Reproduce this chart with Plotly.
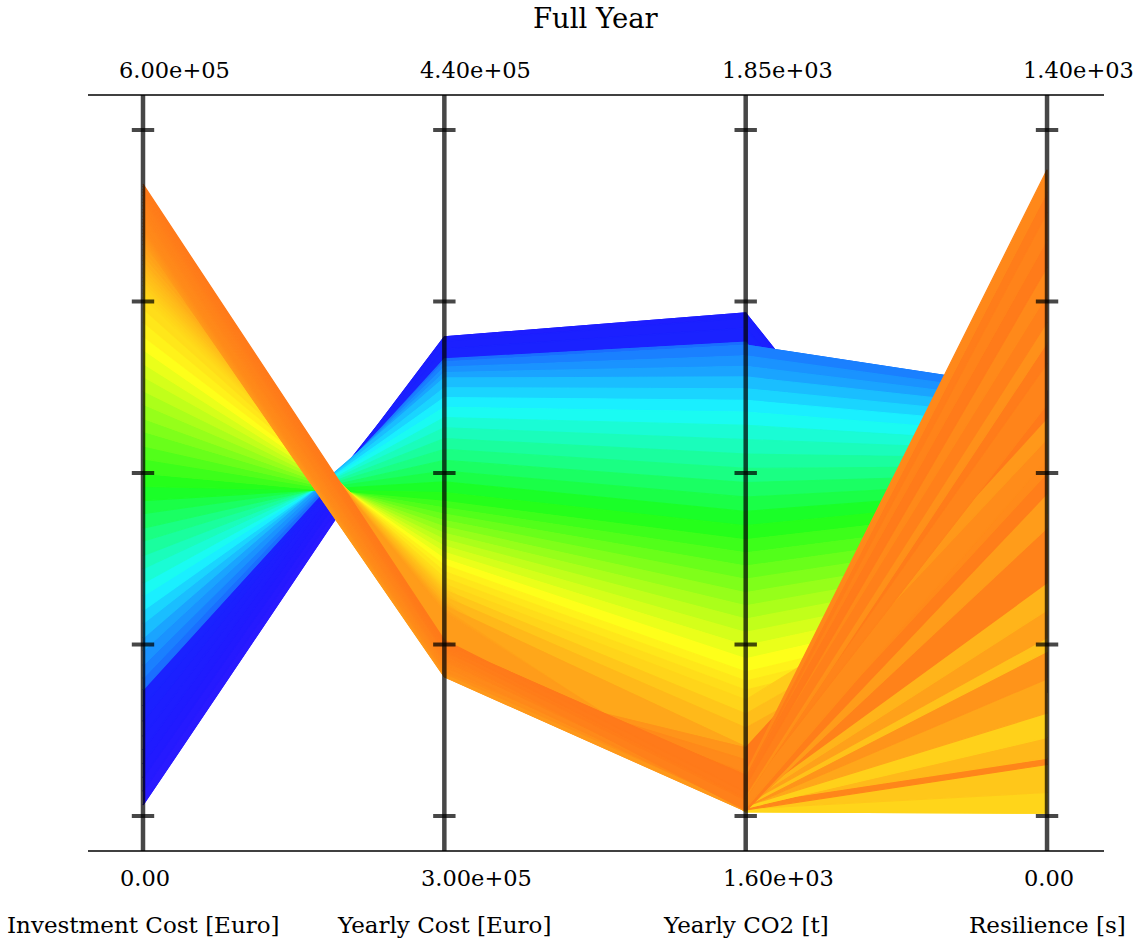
import plotly.graph_objects as go

# ---------------- data ----------------
axis_names = ["Investment Cost [Euro]", "Yearly Cost [Euro]", "Yearly CO2 [t]", "Resilience [s]"]
axis_min = [0.0, 3.00e5, 1.60e3, 0.0]
axis_max = [6.00e5, 4.40e5, 1.85e3, 1.40e3]
top_labels = ["6.00e+05", "4.40e+05", "1.85e+03", "1.40e+03"]
bottom_labels = ["0.00", "3.00e+05", "1.60e+03", "0.00"]
chart_title = "Full Year"

investment_cost = [
    9600, 21600, 33600, 45600, 57600, 69600, 82800, 96000, 110400,
    120400, 131700, 144200, 155600, 168300, 179800, 192500, 203600, 216400, 227700,
    240300, 251800, 264500, 275900, 288200, 299600, 312400, 323800, 336300, 347700,
    360200, 371900, 384400, 395800, 408100, 419700, 432300, 443900,
    453600, 457200, 460800, 464400, 468000, 471600, 475200, 478800, 482400, 486000,
    490800, 495600, 500400,
    504000, 507000, 510000, 513000, 516000, 519000, 522000, 525000, 528000, 531000,
    534000, 537000, 540000, 543000, 546000, 548400, 550800, 552600,
]
yearly_cost = [
    393700, 394700, 395700, 396700, 397600, 397800, 396900, 395300, 393300,
    392700, 391600, 390500, 389400, 387400, 385400, 383400, 381300, 379200, 377000,
    374800, 372600, 370400, 368200, 366000, 364200, 362900, 361600, 360300, 359000,
    357700, 356400, 355100, 353800, 352500, 351200, 349900, 348600,
    347800, 347300, 346900, 346500, 346100, 345700, 345100, 344700, 344100, 343500,
    342900, 342200, 341600,
    328400, 328800, 329200, 329600, 330200, 330600, 331000, 331400, 331800, 332200,
    332700, 333100, 333500, 333900, 334300, 334900, 335300, 335900,
]
yearly_co2 = [
    1773.5, 1775.7, 1778.2, 1780.8, 1782.6, 1783.3, 1781.5, 1777.8, 1772.7,
    1771.6, 1767.7, 1763.9, 1760.0, 1755.7, 1751.5, 1747.2, 1742.4, 1737.2, 1731.9,
    1726.7, 1721.5, 1716.2, 1711.0, 1705.8, 1700.7, 1695.9, 1691.1, 1686.3, 1681.4,
    1676.6, 1671.8, 1666.9, 1662.1, 1657.3, 1652.5, 1649.2, 1645.9,
    1601.5, 1642.3, 1602.6, 1603.6, 1637.2, 1602.2, 1604.4, 1632.1, 1602.9, 1605.1,
    1625.2, 1603.3, 1604.7,
    1601.8, 1624.8, 1603.6, 1607.7, 1620.4, 1602.9, 1610.9, 1615.7, 1604.4, 1609.5,
    1613.8, 1602.2, 1612.4, 1605.8, 1614.9, 1606.6, 1614.6, 1608.7,
]
resilience = [
    336, 294, 322, 280, 266, 252, 308, 280, 252,
    867.3, 854.5, 841.4, 828.6, 811.0, 793.7, 776.1, 759.6, 744.3, 729.0,
    713.7, 698.4, 683.1, 667.8, 652.4, 635.1, 615.7, 596.3, 576.9, 557.3,
    538.0, 518.6, 499.2, 479.6, 460.2, 440.8, 425.5, 410.2,
    5.6, 616, 48, 210, 560, 105, 364, 518, 160, 476,
    490, 280, 420,
    658, 812, 336, 1008, 770, 728, 1120, 1318.8, 118, 924,
    1232, 588, 1064, 700, 1274, 966, 1176, 840,
]

# ---------------- styling ----------------
FAN_CO2_LIMIT = 1625.0   # low-CO2 solutions drawn last in the last segment
color_stops = [
    (0.00, (48, 26, 255)),
    (0.08, (32, 26, 255)),
    (0.185, (26, 34, 255)),
    (0.20, (26, 110, 255)),
    (0.26, (26, 165, 255)),
    (0.33, (26, 250, 255)),
    (0.41, (26, 255, 145)),
    (0.49, (26, 255, 26)),
    (0.60, (150, 255, 26)),
    (0.70, (255, 255, 26)),
    (0.77, (255, 212, 26)),
    (0.82, (255, 172, 26)),
    (0.86, (255, 140, 26)),
    (0.92, (255, 122, 26)),
    (1.00, (255, 110, 26)),
]
FONT = "DejaVu Serif"
AXIS_COL = "rgba(0,0,0,0.72)"


def color_of(t):
    for (t0, c0), (t1, c1) in zip(color_stops, color_stops[1:]):
        if t <= t1:
            f = (t - t0) / (t1 - t0) if t1 > t0 else 0.0
            f = max(0.0, min(1.0, f))
            return "rgb(%d,%d,%d)" % tuple(round(a + (b - a) * f) for a, b in zip(c0, c1))
    return "rgb(%d,%d,%d)" % color_stops[-1][1]


cols = [investment_cost, yearly_cost, yearly_co2, resilience]
N = len(investment_cost)
norm = [[(v - axis_min[k]) / (axis_max[k] - axis_min[k]) for v in cols[k]] for k in range(4)]
colors = [color_of(norm[0][i]) for i in range(N)]

fig = go.Figure()


def add_band(xs, cur, prev, color):
    if prev is None:
        fig.add_trace(go.Scatter(x=xs, y=cur, mode="lines",
                                 line=dict(color=color, width=1.2),
                                 hoverinfo="skip", showlegend=False))
    else:
        fig.add_trace(go.Scatter(x=xs + xs[::-1], y=cur + prev[::-1], mode="lines",
                                 fill="toself", fillcolor=color,
                                 line=dict(color=color, width=1.2),
                                 hoverinfo="skip", showlegend=False))


# first two segments: ordered by investment cost
order = sorted(range(N), key=lambda i: investment_cost[i])
prev = None
for i in order:
    cur = [norm[0][i], norm[1][i], norm[2][i]]
    add_band([0, 1, 2], cur, prev, colors[i])
    prev = cur

# last segment: others first, low-CO2 fan on top ordered by resilience
others = [i for i in order if yearly_co2[i] >= FAN_CO2_LIMIT]
fan = sorted([i for i in range(N) if yearly_co2[i] < FAN_CO2_LIMIT], key=lambda i: resilience[i])
for group in (others, fan):
    prev = None
    for i in group:
        cur = [norm[2][i], norm[3][i]]
        add_band([2, 3], cur, prev, colors[i])
        prev = cur

# vertical axes
YLO, YHI = -0.051, 1.051
ax_x, ax_y = [], []
for k in range(4):
    ax_x += [k, k, None]
    ax_y += [YLO, YHI, None]
fig.add_trace(go.Scatter(x=ax_x, y=ax_y, mode="lines",
                         line=dict(color=AXIS_COL, width=4.5),
                         hoverinfo="skip", showlegend=False))
tick_vals = [0, 0.25, 0.5, 0.75, 1.0]
tx, ty = [], []
for k in range(4):
    tx += [k] * len(tick_vals)
    ty += tick_vals
fig.add_trace(go.Scatter(x=tx, y=ty, mode="markers",
                         marker=dict(symbol="line-ew", size=16,
                                     line=dict(color=AXIS_COL, width=4)),
                         hoverinfo="skip", showlegend=False))

# spines
for yv in (0, 1):
    fig.add_shape(type="line", xref="paper", yref="paper", x0=0, x1=1, y0=yv, y1=yv,
                  line=dict(color="black", width=1.3), layer="above")

# texts
for k in range(4):
    fig.add_annotation(x=k, y=1.033, xref="x", yref="paper", text=top_labels[k],
                       showarrow=False, xanchor="left", xshift=-26, yanchor="middle",
                       font=dict(family=FONT, size=22.5, color="black"))
    fig.add_annotation(x=k, y=-0.036, xref="x", yref="paper", text=bottom_labels[k],
                       showarrow=False, xanchor="left", xshift=-25, yanchor="middle",
                       font=dict(family=FONT, size=22.5, color="black"))
    fig.add_annotation(x=k, y=-0.098, xref="x", yref="paper", text=axis_names[k],
                       showarrow=False, xanchor="center", yanchor="middle",
                       font=dict(family=FONT, size=23, color="black"))
fig.add_annotation(x=0.5, y=1.102, xref="paper", yref="paper", text=chart_title,
                   showarrow=False, xanchor="center", yanchor="middle",
                   font=dict(family=FONT, size=27.5, color="black"))

fig.update_layout(
    width=1141, height=941,
    margin=dict(l=88, r=37, t=95, b=90),
    paper_bgcolor="white", plot_bgcolor="white",
    xaxis=dict(range=[-0.1825, 3.189], visible=False, fixedrange=True),
    yaxis=dict(range=[YLO, YHI], visible=False, fixedrange=True),
    showlegend=False,
)

fig.write_html("out.html")
